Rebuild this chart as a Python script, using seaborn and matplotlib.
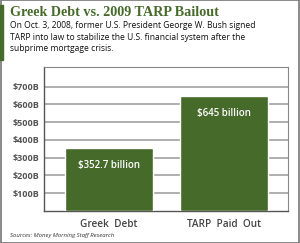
import numpy as np
import pandas as pd
import matplotlib.pyplot as plt
import seaborn as sns
from matplotlib.patches import Rectangle

categories = ["Greek  Debt", "TARP  Paid  Out"]
values = [352.7, 645]
bar_labels = ["$352.7 billion", "$645 billion"]
yticks = [100, 200, 300, 400, 500, 600, 700]
ytick_labels = ["$100B", "$200B", "$300B", "$400B", "$500B", "$600B", "$700B"]

green = "#466a2a"
df = pd.DataFrame({"cat": categories, "val": values})

sns.set_style("white")
plt.rcParams["font.family"] = ["Open Sans", "DejaVu Sans"]

fig = plt.figure(figsize=(3.0, 2.43), dpi=100)
ax = fig.add_axes([44/300, 1 - 211/243, 244/300, 144/243])

sns.barplot(data=df, x="cat", y="val", color=green, width=0.765,
            saturation=1, ax=ax, zorder=3)
ax.set_xlim(-0.565, 1.56)
ax.set_ylim(0, 810)
ax.set_yticks(yticks)
ax.set_yticklabels(ytick_labels, fontsize=6.5, fontweight="bold", color="#555555")
ax.tick_params(axis="y", length=0, pad=3)
ax.tick_params(axis="x", length=0, pad=6, labelsize=7.2, labelcolor="#444444")
for t in ax.get_xticklabels():
    t.set_fontweight("semibold")
ax.hlines(yticks, -0.565, 1.56, colors="#999999", linewidth=1.1, zorder=2)
ax.set_xlabel("")
ax.set_ylabel("")
for s in ["top", "right"]:
    ax.spines[s].set_color("#888888")
    ax.spines[s].set_linewidth(0.8)
for s in ["left", "bottom"]:
    ax.spines[s].set_color("#555555")
    ax.spines[s].set_linewidth(1.0)

for i, (v, lab) in enumerate(zip(values, bar_labels)):
    ax.text(i, v - 95, lab, ha="center", va="center", color="white",
            fontsize=7, fontweight="semibold", zorder=4)

# header
fig.add_artist(Rectangle((0, 1 - 60/243), 3/300, 55/243, transform=fig.transFigure,
                         color=green, zorder=5))
fig.text(10/300, 1 - 13/243, "Greek Debt vs. 2009 TARP Bailout", family="Liberation Serif",
         fontweight="bold", fontsize=10.2, color=green, va="center")
fig.text(10/300, 1 - 37/243,
         "On Oct. 3, 2008, former U.S. President George W. Bush signed\n"
         "TARP into law to stabilize the U.S. financial system after the\n"
         "subprime mortgage crisis.",
         fontsize=6.15, color="#111111", va="center", linespacing=1.4)
fig.text(10/300, 1 - 235/243, "Sources: Money Morning Staff Research", fontsize=4.3,
         style="italic", color="#333333", va="center")
fig.add_artist(Rectangle((0.002, 0.002), 0.996, 0.996, transform=fig.transFigure,
                         fill=False, edgecolor="#777777", linewidth=1.2))

fig.savefig("out.png", dpi=100)
